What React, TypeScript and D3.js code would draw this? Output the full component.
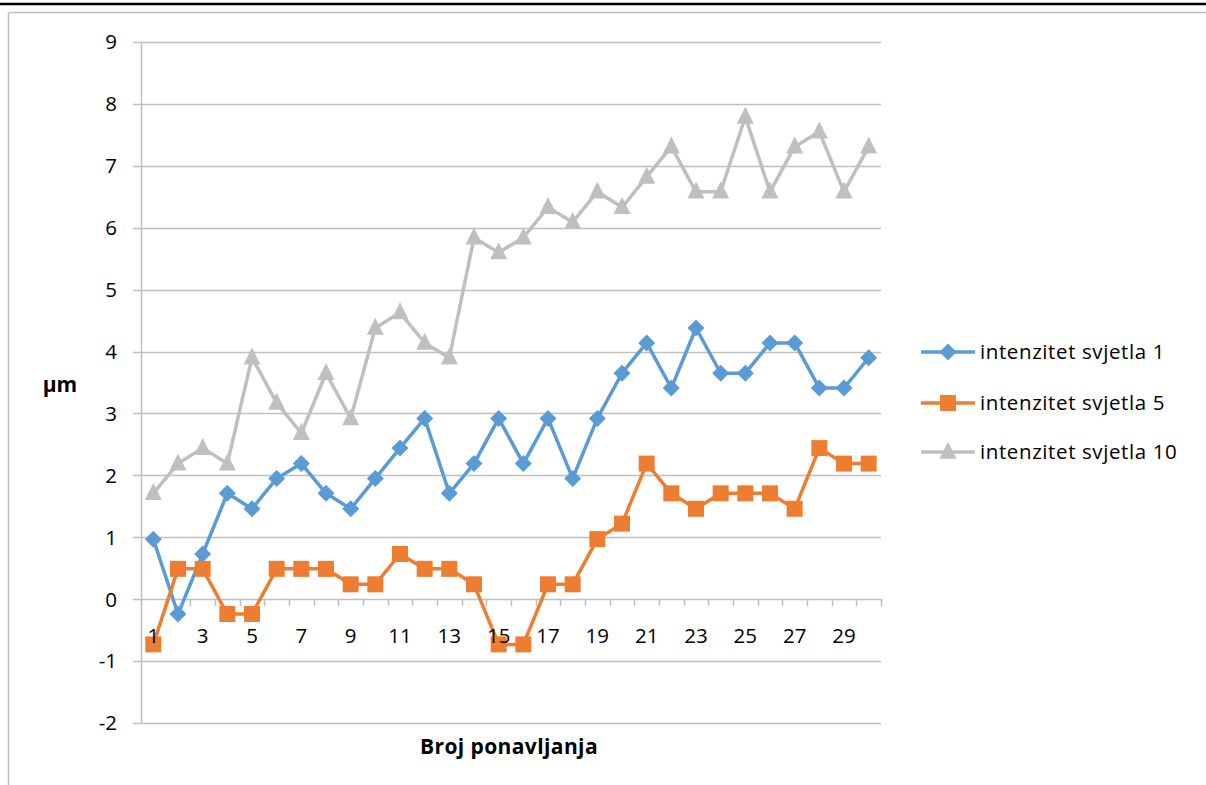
import React from "react";
import * as d3 from "d3";

const categories: number[] = d3.range(1, 31);
const series1: number[] = [0.97, -0.24, 0.73, 1.71, 1.46, 1.95, 2.19, 1.71, 1.46, 1.95, 2.44, 2.92, 1.71, 2.19, 2.92, 2.19, 2.92, 1.95, 2.92, 3.65, 4.14, 3.41, 4.38, 3.65, 3.65, 4.14, 4.14, 3.41, 3.41, 3.9];
const series5: number[] = [-0.73, 0.49, 0.49, -0.24, -0.24, 0.49, 0.49, 0.49, 0.24, 0.24, 0.73, 0.49, 0.49, 0.24, -0.73, -0.73, 0.24, 0.24, 0.97, 1.22, 2.19, 1.71, 1.46, 1.71, 1.71, 1.71, 1.46, 2.44, 2.19, 2.19];
const series10: number[] = [1.71, 2.19, 2.44, 2.19, 3.9, 3.17, 2.68, 3.65, 2.92, 4.38, 4.63, 4.14, 3.9, 5.84, 5.6, 5.84, 6.33, 6.09, 6.58, 6.33, 6.82, 7.31, 6.58, 6.58, 7.79, 6.58, 7.31, 7.55, 6.58, 7.31];
const seriesNames: string[] = ["intenzitet svjetla 1", "intenzitet svjetla 5", "intenzitet svjetla 10"];
const yTicks: number[] = [-2, -1, 0, 1, 2, 3, 4, 5, 6, 7, 8, 9];
const xTickLabels: number[] = categories.filter((c) => c % 2 === 1);

const colors = ["#5B9BD5", "#ED7D31", "#BFBFBF"];
const shapes = ["diamond", "square", "triangle"];
const FONT = "'Open Sans', 'Noto Sans', sans-serif";
const FS = 20.5;

function Marker({ shape, x, y, color }: { shape: string; x: number; y: number; color: string }) {
  if (shape === "diamond") {
    const r = 8.5;
    return <path d={`M${x},${y - r}L${x + r},${y}L${x},${y + r}L${x - r},${y}Z`} fill={color} />;
  }
  if (shape === "square") {
    const r = 8;
    return <rect x={x - r} y={y - r} width={2 * r} height={2 * r} fill={color} />;
  }
  const h = 17;
  const w = 17;
  return <path d={`M${x},${y - h * 0.6}L${x + w / 2},${y + h * 0.4}L${x - w / 2},${y + h * 0.4}Z`} fill={color} />;
}

export default function App() {
  const W = 1206;
  const H = 785;
  const left = 141;
  const right = 881;
  const top = 42;
  const bottom = 723;

  const x = d3.scaleBand<number>().domain(categories).range([left, right]);
  const y = d3.scaleLinear().domain([-2, 9]).range([bottom, top]);
  const cx = (c: number) => (x(c) as number) + x.bandwidth() / 2;

  const line = d3
    .line<number>()
    .x((_, i) => cx(categories[i]))
    .y((d) => y(d));

  const allSeries = [series1, series5, series10];
  const drawOrder = [2, 0, 1];

  const legendX = 921;
  const legendYs = [352, 403, 452];

  return (
    <svg width={W} height={H} style={{ position: "absolute", left: 0, top: 0, display: "block" }}>
      <rect x={0} y={0} width={W} height={H} fill="#fff" />
      <line x1={0} x2={W} y1={4} y2={4} stroke="#000" strokeWidth={2.5} />
      <line x1={8.5} x2={8.5} y1={12.5} y2={H} stroke="#bfbfbf" strokeWidth={1.5} />
      <line x1={8.5} x2={W} y1={12.5} y2={12.5} stroke="#bfbfbf" strokeWidth={1.5} />

      {yTicks.map((t) => (
        <g key={t}>
          <line x1={left - 8} x2={right} y1={Math.round(y(t)) + 0.5} y2={Math.round(y(t)) + 0.5} stroke="#bfbfbf" strokeWidth={1.5} />
          <text x={117} y={y(t)} dy="0.36em" textAnchor="end" fontFamily={FONT} fontSize={FS} fill="#000">
            {t}
          </text>
        </g>
      ))}
      <line x1={left + 0.5} x2={left + 0.5} y1={top} y2={bottom + 0.5} stroke="#bfbfbf" strokeWidth={1.5} />

      {categories.map((c) => (
        <line key={c} x1={Math.round((x(c) as number) + x.bandwidth()) + 0.5} x2={Math.round((x(c) as number) + x.bandwidth()) + 0.5} y1={y(0)} y2={y(0) + 7} stroke="#bfbfbf" strokeWidth={1.5} />
      ))}
      <line x1={left + 0.5} x2={left + 0.5} y1={y(0)} y2={y(0) + 7} stroke="#bfbfbf" strokeWidth={1.5} />

      {drawOrder.map((si) => (
        <g key={si}>
          <path d={line(allSeries[si]) || ""} fill="none" stroke={colors[si]} strokeWidth={3.5} strokeLinejoin="round" />
          {allSeries[si].map((v, i) => (
            <Marker key={i} shape={shapes[si]} x={cx(categories[i])} y={y(v)} color={colors[si]} />
          ))}
        </g>
      ))}

      {xTickLabels.map((c) => (
        <text key={c} x={cx(c)} y={636} dy="0.36em" textAnchor="middle" fontFamily={FONT} fontSize={FS} fill="#000">
          {c}
        </text>
      ))}

      <text x={60} y={384} dy="0.36em" textAnchor="middle" fontFamily={FONT} fontSize={21} fontWeight="bold" fill="#000">
        µm
      </text>
      <text x={509} y={746} dy="0.36em" textAnchor="middle" fontFamily={FONT} fontSize={21} fontWeight="bold" letterSpacing={0.4} fill="#000">
        Broj ponavljanja
      </text>

      {seriesNames.map((n, i) => (
        <g key={n}>
          <line x1={legendX} x2={legendX + 54} y1={legendYs[i]} y2={legendYs[i]} stroke={colors[i]} strokeWidth={3.5} />
          <Marker shape={shapes[i]} x={legendX + 27} y={legendYs[i]} color={colors[i]} />
          <text x={980} y={legendYs[i]} dy="0.36em" fontFamily={FONT} fontSize={FS} letterSpacing={0.6} fill="#000">
            {n}
          </text>
        </g>
      ))}
    </svg>
  );
}
